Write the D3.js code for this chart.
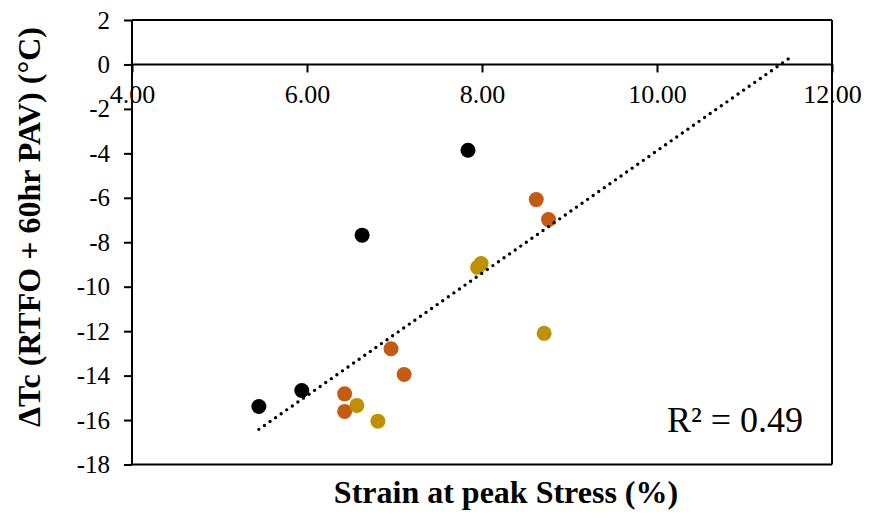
<!DOCTYPE html>
<html>
<head>
<meta charset="utf-8">
<script src="https://cdn.jsdelivr.net/npm/d3@7"></script>
<style>
  html, body { margin: 0; padding: 0; background: #fff; }
  svg { display: block; font-family: "Liberation Serif", "Times New Roman", serif; }
</style>
</head>
<body>
<svg id="chart" width="870" height="525"></svg>
<script>
// ---- data ----
const groupNames = ["Black", "Orange", "Gold"];
const groupColors = ["#000000", "#C55A11", "#BF9000"];
const blackX = [5.45, 5.94, 6.63, 7.84];
const blackY = [-15.39, -14.67, -7.68, -3.86];
const orangeX = [6.96, 7.11, 6.43, 6.43, 8.62, 8.76];
const orangeY = [-12.79, -13.95, -14.82, -15.61, -6.08, -6.98];
const goldX = [6.57, 6.81, 8.71, 7.95, 7.99];
const goldY = [-15.34, -16.05, -12.10, -9.13, -8.96];
const xTicks = [4, 6, 8, 10, 12];
const yTicks = [-18, -16, -14, -12, -10, -8, -6, -4, -2, 0, 2];
const trendForward = 2.75;
const rSquaredLabel = "R² = 0.49";
const xTitle = "Strain at peak Stress (%)";
const yTitle = "ΔTc (RTFO + 60hr PAV) (°C)";

const groups = [
  { x: blackX, y: blackY },
  { x: orangeX, y: orangeY },
  { x: goldX, y: goldY }
];

// ---- layout ----
const svg = d3.select("#chart");
const pL = 132, pR = 832, pT = 20, pB = 464.5;
const x = d3.scaleLinear().domain([4, 12]).range([pL, pR]);
const y = d3.scaleLinear().domain([-18, 2]).range([pB, pT]);

// plot border (top, right, bottom)
svg.append("line").attr("x1", pL).attr("x2", pR).attr("y1", pT).attr("y2", pT)
  .attr("stroke", "#000").attr("stroke-width", 2);
svg.append("line").attr("x1", pR).attr("x2", pR).attr("y1", pT).attr("y2", pB)
  .attr("stroke", "#000").attr("stroke-width", 2);
svg.append("line").attr("x1", pL).attr("x2", pR).attr("y1", pB).attr("y2", pB)
  .attr("stroke", "#000").attr("stroke-width", 2);

// y axis
const yAxis = svg.append("g").attr("transform", `translate(${pL},0)`)
  .call(d3.axisLeft(y).tickValues(yTicks).tickSize(8).tickPadding(14).tickFormat(d3.format("d")));
yAxis.select(".domain").attr("stroke-width", 2).attr("d", `M0,${pT}V${pB}`);
yAxis.selectAll(".tick line").attr("stroke-width", 2);
yAxis.selectAll(".tick text").attr("font-size", 25).attr("font-family", "Liberation Serif")
  .attr("fill", "#000").text(d => d < 0 ? "-" + Math.abs(d) : d);

// x axis at y = 0
const xAxis = svg.append("g").attr("transform", `translate(0,${y(0)})`)
  .call(d3.axisBottom(x).tickValues(xTicks).tickSize(8).tickPadding(12).tickFormat(d3.format(".2f")));
xAxis.select(".domain").attr("stroke-width", 2).attr("d", `M${pL},0H${pR}`);
xAxis.selectAll(".tick line").attr("stroke-width", 2);
xAxis.selectAll(".tick text").attr("font-size", 26).attr("font-family", "Liberation Serif")
  .attr("fill", "#000");

// points
groups.forEach((g, gi) => {
  svg.append("g").selectAll("circle")
    .data(g.x.map((v, i) => [v, g.y[i]]))
    .join("circle")
    .attr("cx", d => x(d[0]))
    .attr("cy", d => y(d[1]))
    .attr("r", 7.5)
    .attr("fill", groupColors[gi]);
});

// linear trendline (least squares on all points)
const all = groups.flatMap(g => g.x.map((v, i) => [v, g.y[i]]));
const mx = d3.mean(all, d => d[0]), my = d3.mean(all, d => d[1]);
const slope = d3.sum(all, d => (d[0] - mx) * (d[1] - my)) / d3.sum(all, d => (d[0] - mx) ** 2);
const intercept = my - slope * mx;
const tx0 = d3.min(all, d => d[0]);
const tx1 = d3.max(all, d => d[0]) + trendForward;
svg.append("line")
  .attr("x1", x(tx0)).attr("y1", y(intercept + slope * tx0))
  .attr("x2", x(tx1)).attr("y2", y(intercept + slope * tx1))
  .attr("stroke", "#000").attr("stroke-width", 3.4)
  .attr("stroke-linecap", "round").attr("stroke-dasharray", "0 6.8");

// R² label
svg.append("text").attr("x", 667).attr("y", 432).attr("font-size", 36)
  .attr("fill", "#000").text(rSquaredLabel);

// axis titles
svg.append("text").attr("x", 506).attr("y", 503).attr("text-anchor", "middle")
  .attr("font-size", 32).attr("font-weight", "bold").attr("fill", "#000").text(xTitle);
svg.append("text").attr("transform", "translate(40,227) rotate(-90)").attr("text-anchor", "middle")
  .attr("font-size", 32).attr("font-weight", "bold").attr("fill", "#000").text(yTitle);
</script>
</body>
</html>
